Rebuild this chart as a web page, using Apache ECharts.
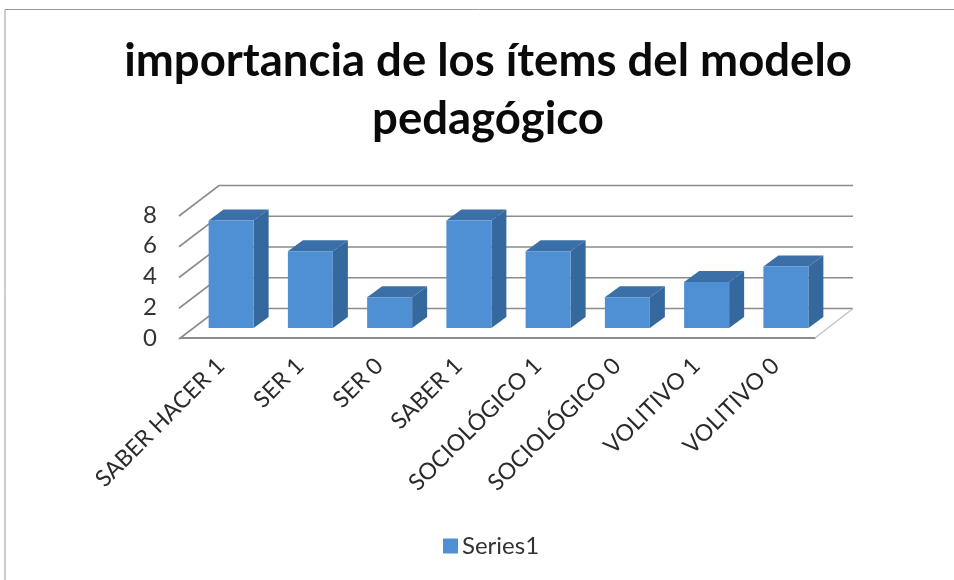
<!DOCTYPE html>
<html>
<head>
<meta charset="utf-8">
<style>
  html, body { margin: 0; padding: 0; background: #fff; }
  #chart { width: 954px; height: 580px; }
</style>
<script src="https://cdn.jsdelivr.net/npm/echarts@6/dist/echarts.min.js"></script>
</head>
<body>
<div id="chart"></div>
<script>
const categories = ['SABER HACER 1', 'SER 1', 'SER 0', 'SABER 1', 'SOCIOLÓGICO 1', 'SOCIOLÓGICO 0', 'VOLITIVO 1', 'VOLITIVO 0'];
const values = [7, 5, 2, 7, 5, 2, 3, 4];
const yTicks = [0, 2, 4, 6, 8];

const FONT = 'Lato, sans-serif';
// profundidad del "3D"
const WALL_DX = 38;
const WALL_DY = 29.5;
const BAR_DX = 15;
const BAR_DY = 11;
const BAR_SHIFT_X = 10.5;
const BAR_SHIFT_Y = 10;
const BAR_W = 45;

function renderWall(params, api) {
  const v = api.value(0);
  const cs = params.coordSys;
  const y = api.coord([0, v])[1];
  const left = cs.x;
  const right = cs.x + cs.width;
  const lineStyle = { stroke: '#8c8c8c', lineWidth: 1.6, fill: null };
  const children = [{
    type: 'polyline',
    shape: { points: [[left - 2, y + 1], [left + WALL_DX, y - WALL_DY], [right + WALL_DX, y - WALL_DY]] },
    style: lineStyle,
  }];
  if (v === 0) {
    children.push({
      type: 'line',
      shape: { x1: right, y1: y, x2: right + WALL_DX, y2: y - WALL_DY },
      style: { stroke: '#c4c4c4', lineWidth: 1.5 },
    });
  }
  return { type: 'group', children };
}

function renderBar(params, api) {
  const base = api.coord([api.value(0), 0]);
  const top = api.coord([api.value(0), api.value(1)]);
  const x0 = base[0] + BAR_SHIFT_X - BAR_W / 2;
  const x1 = x0 + BAR_W;
  const y0 = base[1] - BAR_SHIFT_Y;
  const y1 = top[1] - BAR_SHIFT_Y;
  return {
    type: 'group',
    children: [
      {
        type: 'polygon',
        shape: { points: [[x1, y1], [x1 + BAR_DX, y1 - BAR_DY], [x1 + BAR_DX, y0 - BAR_DY], [x1, y0]] },
        style: { fill: '#35689c' },
      },
      {
        type: 'polygon',
        shape: { points: [[x0, y1], [x0 + BAR_DX, y1 - BAR_DY], [x1 + BAR_DX, y1 - BAR_DY], [x1, y1]] },
        style: { fill: '#3a6fa8' },
      },
      {
        type: 'rect',
        shape: { x: x0, y: y1, width: BAR_W, height: y0 - y1 },
        style: { fill: '#4f8fd3' },
      },
    ],
  };
}

const chart = echarts.init(document.getElementById('chart'));
chart.setOption({
  animation: false,
  backgroundColor: '#fff',
  title: {
    text: 'importancia de los ítems del modelo\npedagógico',
    left: 483,
    top: 27,
    textAlign: 'center',
    textStyle: {
      fontFamily: FONT,
      fontSize: 45.5,
      fontWeight: 'bold',
      color: '#0a0a0a',
      lineHeight: 58,
    },
  },
  legend: {
    data: [{ name: 'Series1', icon: 'rect' }],
    left: 438,
    top: 529,
    itemWidth: 15,
    itemHeight: 15,
    itemGap: 5,
    textStyle: { fontFamily: FONT, fontSize: 24, color: '#333', padding: [0, 0, 0, -1] },
  },
  grid: { left: 181, top: 215, width: 634, height: 123 },
  xAxis: {
    type: 'category',
    data: categories,
    axisLine: { show: true, lineStyle: { color: '#8c8c8c', width: 2 } },
    axisTick: { show: false },
    axisLabel: {
      interval: 0,
      rotate: 45,
      margin: 24,
      fontFamily: FONT,
      fontSize: 23,
      color: '#2a2a2a',
    },
  },
  yAxis: {
    type: 'value',
    min: 0,
    max: 8,
    interval: 2,
    axisLine: { show: false },
    axisTick: { show: false },
    splitLine: { show: false },
    axisLabel: { margin: 24, fontFamily: FONT, fontSize: 24, color: '#333', padding: [4, 0, 0, 0] },
  },
  series: [
    {
      name: 'pared',
      type: 'custom',
      renderItem: renderWall,
      data: yTicks.map((v) => [v]),
      encode: { y: 0 },
      clip: false,
      silent: true,
      z: 1,
    },
    {
      name: 'Series1',
      type: 'custom',
      renderItem: renderBar,
      data: values.map((v, i) => [i, v]),
      encode: { x: 0, y: 1 },
      itemStyle: { color: '#4f8fd3' },
      clip: false,
      z: 3,
    },
  ],
  graphic: [{
    type: 'polyline',
    shape: { points: [[5, 580], [5, 9.5], [954, 9.5]] },
    style: { stroke: '#9a9a9a', lineWidth: 1, fill: null },
  }],
});
</script>
</body>
</html>
